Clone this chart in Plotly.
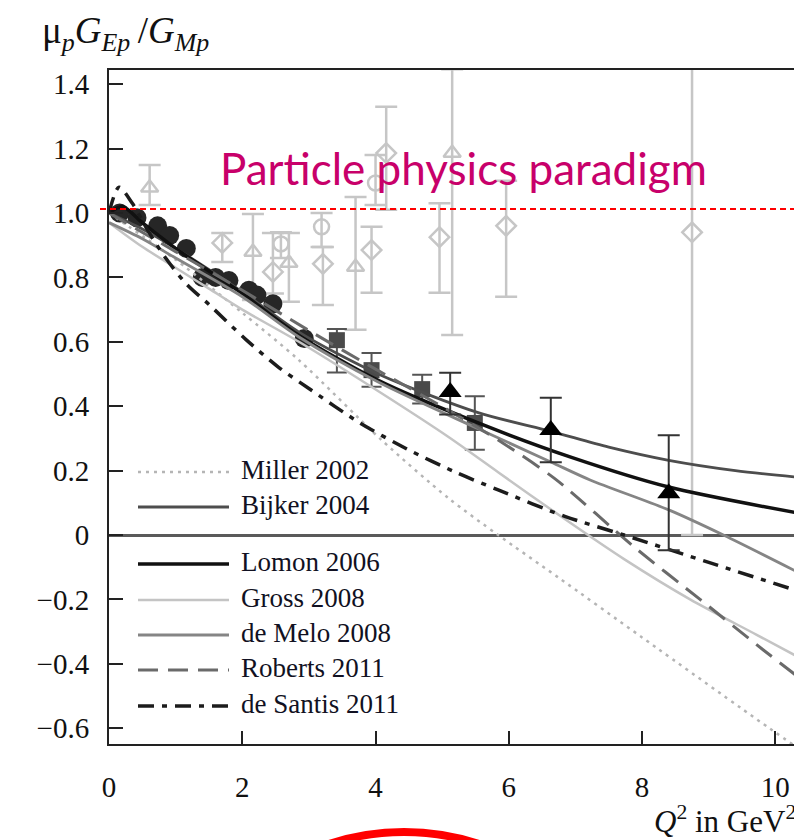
import plotly.graph_objects as go

# ---------------- data ----------------
# theory curves: Q^2 knots and ratio values
miller_q2 = [0, 1, 2, 2.85, 4.09, 5.09, 5.84, 6.73, 8.0, 9.91, 10.4]
miller_r = [1.0, 0.855, 0.69, 0.543, 0.295, 0.115, 0.0, -0.13, -0.318, -0.60, -0.67]

bijker_q2 = [0, 0.5, 1, 2, 2.85, 4.04, 5.54, 6.63, 7.5, 8.4, 9.4, 10.4]
bijker_r = [1.0, 0.95, 0.89, 0.755, 0.63, 0.50, 0.38, 0.322, 0.273, 0.232, 0.2, 0.178]

lomon_q2 = [0, 0.2, 0.5, 1, 2, 2.85, 4.04, 5.54, 6.93, 8.4, 10.4]
lomon_r = [1.0, 1.02, 0.97, 0.89, 0.75, 0.62, 0.48, 0.348, 0.242, 0.149, 0.066]

gross_q2 = [0, 0.5, 1, 1.5, 2, 2.85, 4.09, 5.09, 5.84, 6.78, 7.73, 8.72, 9.72, 10.4]
gross_r = [0.97, 0.895, 0.83, 0.765, 0.70, 0.60, 0.44, 0.305, 0.195, 0.058, -0.075, -0.20, -0.31, -0.385]

demelo_q2 = [0, 0.5, 1, 2, 2.85, 4.04, 5.54, 6.63, 7.22, 8.4, 9.22, 10.4]
demelo_r = [0.97, 0.92, 0.86, 0.74, 0.615, 0.475, 0.33, 0.227, 0.171, 0.078, 0.0, -0.122]

roberts_q2 = [0, 1, 2, 3, 4, 4.99, 5.84, 6.69, 7.88, 8.87, 9.82, 10.4]
roberts_r = [1.0, 0.88, 0.76, 0.635, 0.515, 0.40, 0.295, 0.175, -0.037, -0.20, -0.357, -0.45]

desantis_q2 = [0, 0.15, 0.35, 0.6, 0.85, 1.16, 1.51, 2.06, 2.55, 3.0, 3.75, 4.49, 5.2, 5.84, 6.84, 7.73, 9.0, 10.4]
desantis_r = [1.0, 1.08, 1.03, 0.94, 0.86, 0.78, 0.714, 0.606, 0.52, 0.455, 0.35, 0.265, 0.195, 0.14, 0.058, 0.0, -0.085, -0.178]

# polarization data (dark)
pol_circ_q2 = [0.16, 0.42, 0.73, 0.91, 1.16, 1.40, 1.60, 1.80, 2.10, 2.22, 2.46, 2.93]
pol_circ_r = [1.0, 0.985, 0.96, 0.93, 0.89, 0.80, 0.80, 0.79, 0.76, 0.745, 0.718, 0.61]

pol_sq_q2 = [3.42, 3.94, 4.70, 5.49]
pol_sq_r = [0.605, 0.512, 0.453, 0.348]
pol_sq_up = [0.035, 0.053, 0.045, 0.083]
pol_sq_dn = [0.10, 0.052, 0.045, 0.083]

pol_tri_q2 = [5.12, 6.63, 8.40]
pol_tri_r = [0.444, 0.326, 0.13]
pol_tri_up = [0.06, 0.10, 0.18]
pol_tri_dn = [0.07, 0.10, 0.177]

# Rosenbluth data (light, open)
ros_tri_q2 = [0.61, 2.16, 2.70, 3.70, 5.15]
ros_tri_r = [1.078, 0.879, 0.845, 0.832, 1.186]
ros_tri_up = [0.071, 0.118, 0.093, 0.218, 0.26]
ros_tri_dn = [0.053, 0.149, 0.121, 0.195, 0.565]

ros_dia_q2 = [1.70, 2.46, 3.21, 3.94, 4.16, 4.96, 5.96, 8.75]
ros_dia_r = [0.907, 0.817, 0.842, 0.885, 1.186, 0.925, 0.96, 0.94]
ros_dia_up = [0.031, 0.121, 0.052, 0.072, 0.144, 0.105, 0.14, 0.51]
ros_dia_dn = [0.059, 0.067, 0.128, 0.133, 0.176, 0.173, 0.22, 0.94]

ros_circ_q2 = [2.58, 3.19, 4.0]
ros_circ_r = [0.904, 0.957, 1.093]
ros_circ_up = [0.036, 0.043, 0.087]
ros_circ_dn = [0.044, 0.063, 0.068]

x_ticks = [0, 2, 4, 6, 8, 10]
y_ticks = [-0.6, -0.4, -0.2, 0, 0.2, 0.4, 0.6, 0.8, 1.0, 1.2, 1.4]
y_tick_text = ["\u22120.6", "\u22120.4", "\u22120.2", "0", "0.2", "0.4", "0.6", "0.8", "1.0", "1.2", "1.4"]

model_names = ["Miller 2002", "Bijker 2004", "Lomon 2006", "Gross 2008",
               "de Melo 2008", "Roberts 2011", "de Santis 2011"]
model_data = [(miller_q2, miller_r), (bijker_q2, bijker_r), (lomon_q2, lomon_r),
              (gross_q2, gross_r), (demelo_q2, demelo_r), (roberts_q2, roberts_r),
              (desantis_q2, desantis_r)]

# ---------------- styles ----------------
model_style = {
    "Miller 2002": dict(color="#b5b5b5", width=2.5, dash="3px,5px"),
    "Bijker 2004": dict(color="#4d4d4d", width=2.8, dash="solid"),
    "Lomon 2006": dict(color="#111111", width=3.5, dash="solid"),
    "Gross 2008": dict(color="#c4c4c4", width=2.5, dash="solid"),
    "de Melo 2008": dict(color="#858585", width=2.8, dash="solid"),
    "Roberts 2011": dict(color="#6a6a6a", width=3.0, dash="20px,10px"),
    "de Santis 2011": dict(color="#1c1c1c", width=3.5, dash="16px,8px,5px,8px"),
}
LIGHT = "#c6c6c6"
SERIF = "Liberation Serif, Times New Roman, serif"

fig = go.Figure()

# light open Rosenbluth points
for xs, ys, up, dn, sym in [(ros_tri_q2, ros_tri_r, ros_tri_up, ros_tri_dn, "triangle-up-open"),
                            (ros_dia_q2, ros_dia_r, ros_dia_up, ros_dia_dn, "diamond-open"),
                            (ros_circ_q2, ros_circ_r, ros_circ_up, ros_circ_dn, "circle-open")]:
    fig.add_trace(go.Scatter(
        x=xs, y=ys, mode="markers", showlegend=False, cliponaxis=True,
        marker=dict(symbol=sym, size=15, color=LIGHT, line=dict(width=2.5, color=LIGHT)),
        error_y=dict(type="data", symmetric=False, array=up, arrayminus=dn,
                     color=LIGHT, thickness=2.5, width=11)))

# dark polarization circles and squares
fig.add_trace(go.Scatter(
    x=pol_circ_q2, y=pol_circ_r, mode="markers", showlegend=False,
    marker=dict(symbol="circle", size=19, color="#262626")))
fig.add_trace(go.Scatter(
    x=pol_sq_q2, y=pol_sq_r, mode="markers", showlegend=False,
    marker=dict(symbol="square", size=16, color="#4a4a4a"),
    error_y=dict(type="data", symmetric=False, array=pol_sq_up, arrayminus=pol_sq_dn,
                 color="#555555", thickness=2, width=10)))

# theory curves
for name, (xs, ys) in zip(model_names, model_data):
    st = model_style[name]
    fig.add_trace(go.Scatter(
        x=xs, y=ys, mode="lines", name=name, showlegend=False,
        line=dict(color=st["color"], width=st["width"], dash=st["dash"],
                  shape="spline", smoothing=0.8)))

# black triangles on top
fig.add_trace(go.Scatter(
    x=pol_tri_q2, y=pol_tri_r, mode="markers", showlegend=False,
    marker=dict(symbol="triangle-up", size=20, color="#000000"),
    error_y=dict(type="data", symmetric=False, array=pol_tri_up, arrayminus=pol_tri_dn,
                 color="#333333", thickness=2, width=11)))

# ---------------- layout ----------------
# the page body has an 8 px margin; figure is sized to fill the 802x840 window
OX, OY = 8, 8
W, H = 802 - OX, 840 - OY
L, R, T, B = 109 - OX, 0, 70 - OY, 840 - 744
pw, ph = W - L - R, H - T - B


def px_x(px):
    """window pixel x -> paper coordinate"""
    return (px - OX - L) / pw


def px_y(py):
    """window pixel y -> paper coordinate"""
    return (H - B - (py - OY)) / ph


fig.update_layout(
    width=W, height=H, margin=dict(l=L, r=R, t=T, b=B, autoexpand=False),
    paper_bgcolor="white", plot_bgcolor="white",
    font=dict(family=SERIF, color="#111111"),
    xaxis=dict(range=[0, 10.4], showgrid=False, zeroline=False, showline=True,
               linecolor="#222222", linewidth=2, mirror=True,
               ticks="inside", ticklen=13, tickwidth=2, tickcolor="#222222",
               tickvals=x_ticks, ticktext=[str(v) for v in x_ticks],
               tickfont=dict(family=SERIF, size=29, color="#111111"),
               ticklabelstandoff=16, automargin=False),
    yaxis=dict(range=[-0.649, 1.444], showgrid=False, showline=True,
               linecolor="#222222", linewidth=2, mirror=False,
               zeroline=True, zerolinecolor="#5a5a5a", zerolinewidth=3,
               ticks="inside", ticklen=14, tickwidth=2, tickcolor="#222222",
               tickvals=y_ticks, ticktext=y_tick_text,
               tickfont=dict(family=SERIF, size=29, color="#111111"),
               ticklabelstandoff=12, automargin=False),
)

shapes = []
annotations = []

# red "paradigm" dashed line at ratio 1
shapes.append(dict(type="line", xref="paper", yref="y", x0=px_x(100), x1=1.0, y0=1.012, y1=1.012,
                   line=dict(color="#ff0000", width=2, dash="6px,4px")))
annotations.append(dict(text="Particle physics paradigm", xref="paper", yref="paper",
                        x=px_x(463), y=px_y(168), xanchor="center", yanchor="middle",
                        showarrow=False, font=dict(family="Lato, Open Sans, sans-serif",
                                                   size=44, color="#c8006a")))

# manual legend (long line samples)
legend_py = [472, 507, 564, 600, 635, 670, 706]
for name, py in zip(model_names, legend_py):
    st = model_style[name]
    shapes.append(dict(type="line", xref="paper", yref="paper",
                       x0=px_x(138), x1=px_x(229), y0=px_y(py), y1=px_y(py),
                       line=dict(color=st["color"], width=st["width"], dash=st["dash"])))
    annotations.append(dict(text=name, xref="paper", yref="paper", x=px_x(239), y=px_y(py - 2),
                            xanchor="left", yanchor="middle", showarrow=False,
                            font=dict(family=SERIF, size=27, color="#111122")))

# axis titles
annotations.append(dict(text="\u03bc<sub><i>p</i></sub><i>G</i><sub><i>Ep</i></sub>\u2009/<i>G</i><sub><i>Mp</i></sub>",
                        xref="paper", yref="paper", x=px_x(40), y=px_y(34),
                        xanchor="left", yanchor="middle", showarrow=False,
                        font=dict(family=SERIF, size=37, color="#111111")))
annotations.append(dict(text="<i>Q</i><sup>2</sup> in GeV<sup>2</sup>",
                        xref="paper", yref="paper", x=px_x(798), y=px_y(819),
                        xanchor="right", yanchor="middle", showarrow=False,
                        font=dict(family=SERIF, size=31, color="#111111")))

# red circle partly visible at the bottom
shapes.append(dict(type="circle", xref="paper", yref="paper",
                   x0=px_x(164), x1=px_x(644), y0=px_y(1312), y1=px_y(832),
                   line=dict(color="#ff0000", width=8)))

fig.update_layout(shapes=shapes, annotations=annotations)
fig.write_html("out.html")
